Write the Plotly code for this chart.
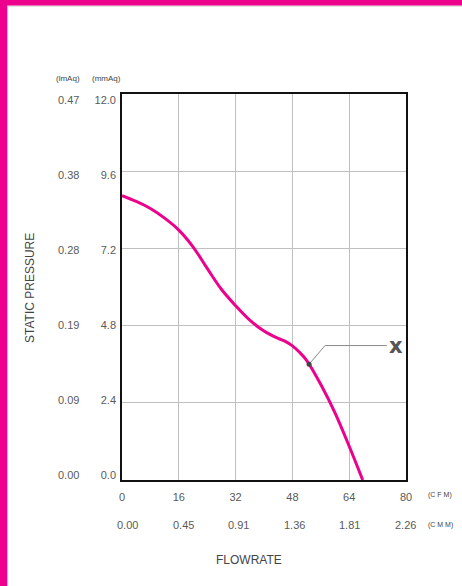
import plotly.graph_objects as go

# ---- data ----
flow_cfm = [0, 4, 8, 12, 16, 20, 24, 28, 32, 36, 40, 44, 46, 48, 50, 52, 56, 60, 64, 67.8]
pressure_mmaq = [8.84, 8.66, 8.44, 8.14, 7.77, 7.25, 6.58, 5.93, 5.42, 4.97, 4.63, 4.40, 4.31, 4.17, 3.97, 3.72, 2.97, 2.09, 1.05, 0.0]

x_ticks_cfm = [0, 16, 32, 48, 64, 80]
x_labels_cmm = ["0.00", "0.45", "0.91", "1.36", "1.81", "2.26"]
y_ticks_mmaq = [0.0, 2.4, 4.8, 7.2, 9.6, 12.0]
y_labels_lmaq = ["0.00", "0.09", "0.19", "0.28", "0.38", "0.47"]

curve_label = "x"
marker_pt = [52.7, 3.60]
leader_x = [52.7, 57.2, 74.6]
leader_y = [3.60, 4.18, 4.18]
label_pos = [77.3, 4.18]

MAGENTA = "#EC008C"
TICK_GRAY = "#5a5a5a"

W, H = 462, 586
L, R, T, B = 122, 56, 94, 106
pw, ph = W - L - R, H - T - B

def px_x(p):
    return (p - L) / pw

def px_y(p):
    return (H - B - p) / ph

fig = go.Figure()
fig.add_trace(go.Scatter(x=flow_cfm, y=pressure_mmaq, mode="lines",
                         line=dict(color=MAGENTA, width=3, shape="spline", smoothing=1.0),
                         hoverinfo="skip", showlegend=False))
fig.add_trace(go.Scatter(x=leader_x, y=leader_y, mode="lines",
                         line=dict(color="#8a8a8a", width=1),
                         hoverinfo="skip", showlegend=False))
fig.add_trace(go.Scatter(x=[marker_pt[0]], y=[marker_pt[1]], mode="markers",
                         marker=dict(color="#444444", size=5),
                         hoverinfo="skip", showlegend=False))

font_main = "Liberation Sans, Arial, sans-serif"

def ann(x, y, text, size, color="#444444", xref="paper", yref="paper", **kw):
    d = dict(x=x, y=y, xref=xref, yref=yref, text=text, showarrow=False,
             xanchor="center", yanchor="middle",
             font=dict(size=size, color=color, family=kw.pop("family", font_main)))
    d.update(kw)
    return d

annotations = [
    ann(label_pos[0], label_pos[1], "<b>%s</b>" % curve_label, 21, "#555555", "x", "y",
        family="DejaVu Sans, sans-serif"),
]
for v, t in zip(x_ticks_cfm, x_labels_cmm):
    annotations.append(ann(v, px_y(525), t, 11, TICK_GRAY, "x2", "paper"))
for v, t in zip(y_ticks_mmaq, y_labels_lmaq):
    annotations.append(ann(px_x(68), v, t, 11, TICK_GRAY, "paper", "y2"))
annotations += [
    ann(px_x(68), px_y(78), "(lmAq)", 8),
    ann(px_x(106), px_y(78), "(mmAq)", 8),
    ann(px_x(440), px_y(495), "(C F M)", 7),
    ann(px_x(440), px_y(525), "(C M M)", 7),
    ann(px_x(249), px_y(560), "FLOWRATE", 12),
    ann(px_x(30), px_y(288), "STATIC PRESSURE", 12, textangle=-90),
]

shapes = [
    dict(type="line", xref="paper", yref="paper", x0=px_x(7.5), x1=px_x(7.5), y0=px_y(H), y1=px_y(5),
         line=dict(color="#c8c8c8", width=1), layer="above"),
    dict(type="line", xref="paper", yref="paper", x0=px_x(7), x1=px_x(W), y0=px_y(6), y1=px_y(6),
         line=dict(color="#c8c8c8", width=1), layer="above"),
    dict(type="rect", xref="paper", yref="paper", x0=px_x(0), x1=px_x(7), y0=px_y(H), y1=px_y(0),
         fillcolor=MAGENTA, line=dict(width=0), layer="above"),
    dict(type="rect", xref="paper", yref="paper", x0=px_x(0), x1=px_x(W), y0=px_y(5.5), y1=px_y(0),
         fillcolor=MAGENTA, line=dict(width=0), layer="above"),
]

tickfont = dict(size=11, color=TICK_GRAY, family=font_main)

fig.update_layout(
    width=W, height=H,
    margin=dict(l=L, r=R, t=T, b=B),
    paper_bgcolor="white", plot_bgcolor="white",
    showlegend=False,
    annotations=annotations,
    shapes=shapes,
    xaxis=dict(range=[0, 80], tickvals=x_ticks_cfm, ticktext=[str(v) for v in x_ticks_cfm],
               showgrid=True, gridcolor="#c0c0c0", gridwidth=1,
               showline=True, linecolor="#111111", linewidth=2, mirror=True,
               ticks="", ticklabelstandoff=6, zeroline=False, tickfont=tickfont),
    # label scale for the second (CMM) row, slightly narrower than the grid
    xaxis2=dict(range=[-1.73, 80.29], overlaying="x", visible=False),
    yaxis=dict(range=[0, 12], tickvals=y_ticks_mmaq, showticklabels=False,
               showgrid=True, gridcolor="#c0c0c0", gridwidth=1,
               showline=True, linecolor="#111111", linewidth=2, mirror=True,
               ticks="", zeroline=False),
    # label scale for the pressure labels, slightly tighter than the grid
    yaxis2=dict(range=[-0.16, 12.19], overlaying="y", side="left", anchor="x",
                tickvals=y_ticks_mmaq, ticktext=["%.1f" % v for v in y_ticks_mmaq],
                showgrid=False, showline=False, zeroline=False, ticks="",
                ticklabelstandoff=5, tickfont=tickfont),
)

fig.write_html("out.html", config={"displayModeBar": False},
               post_script="document.body.style.margin='0';document.body.style.padding='0';")
